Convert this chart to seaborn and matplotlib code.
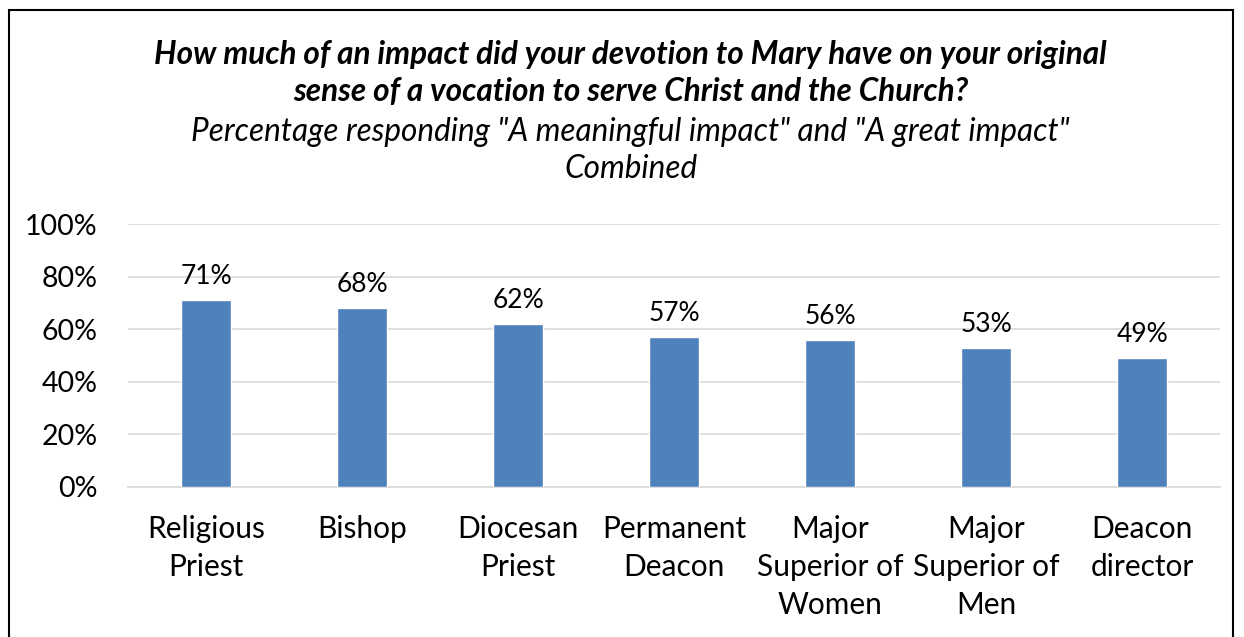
import matplotlib
matplotlib.use("Agg")
import matplotlib.pyplot as plt
import seaborn as sns
import pandas as pd
from matplotlib.patches import Rectangle
from matplotlib.ticker import PercentFormatter

# chart data
categories = ["Religious\nPriest", "Bishop", "Diocesan\nPriest", "Permanent\nDeacon",
              "Major\nSuperior of\nWomen", "Major\nSuperior of\nMen", "Deacon\ndirector"]
values = [71, 68, 62, 57, 56, 53, 49]
y_ticks = [0, 20, 40, 60, 80, 100]

df = pd.DataFrame({"group": categories, "pct": values})

sns.set_theme(style="white")
plt.rcParams["font.family"] = ["Lato", "DejaVu Sans"]
plt.rcParams["text.color"] = "black"

fig = plt.figure(figsize=(12.44, 6.37), dpi=100)
ax = fig.add_axes([0.103, 0.2355, 0.878, 0.4125])

sns.barplot(data=df, x="group", y="pct", color="#4F81BD", width=0.32,
            saturation=1, ax=ax, zorder=3)

ax.set_ylim(0, 100)
ax.set_yticks(y_ticks)
ax.yaxis.set_major_formatter(PercentFormatter(decimals=0))
ax.grid(axis="y", color="#D9D9D9", linewidth=1.2, zorder=0)
ax.set_xlabel("")
ax.set_ylabel("")
for s in ["top", "right", "left"]:
    ax.spines[s].set_visible(False)
ax.spines["bottom"].set_color("#D9D9D9")
ax.spines["bottom"].set_linewidth(1.2)
ax.tick_params(axis="both", length=0, colors="black")
ax.tick_params(axis="x", labelsize=21.5, pad=20)
ax.tick_params(axis="y", labelsize=20.5, pad=22)
for lbl in ax.get_xticklabels():
    lbl.set_linespacing(1.45)

for i, v in enumerate(values):
    ax.annotate(f"{v}%", (i, v), xytext=(0, 8), textcoords="offset points",
                ha="center", va="bottom", fontsize=19, color="black")

title_kw = dict(ha="center", va="center", fontsize=22.7, style="italic", color="black")
fig.text(0.507, 0.915, "How much of an impact did your devotion to Mary have on your original",
         fontweight="bold", **title_kw)
fig.text(0.507, 0.857, "sense of a vocation to serve Christ and the Church?",
         fontweight="bold", **title_kw)
fig.text(0.507, 0.792, "Percentage responding \"A meaningful impact\" and \"A great impact\"",
         **title_kw)
fig.text(0.507, 0.734, "Combined", **title_kw)

# outer chart border
fig.patches.append(Rectangle((9 / 1244, -0.1), (1233 - 9) / 1244, 1.1 - 10 / 637,
                             transform=fig.transFigure, fill=False,
                             edgecolor="black", linewidth=1.5))

fig.savefig("out.png", dpi=100)
